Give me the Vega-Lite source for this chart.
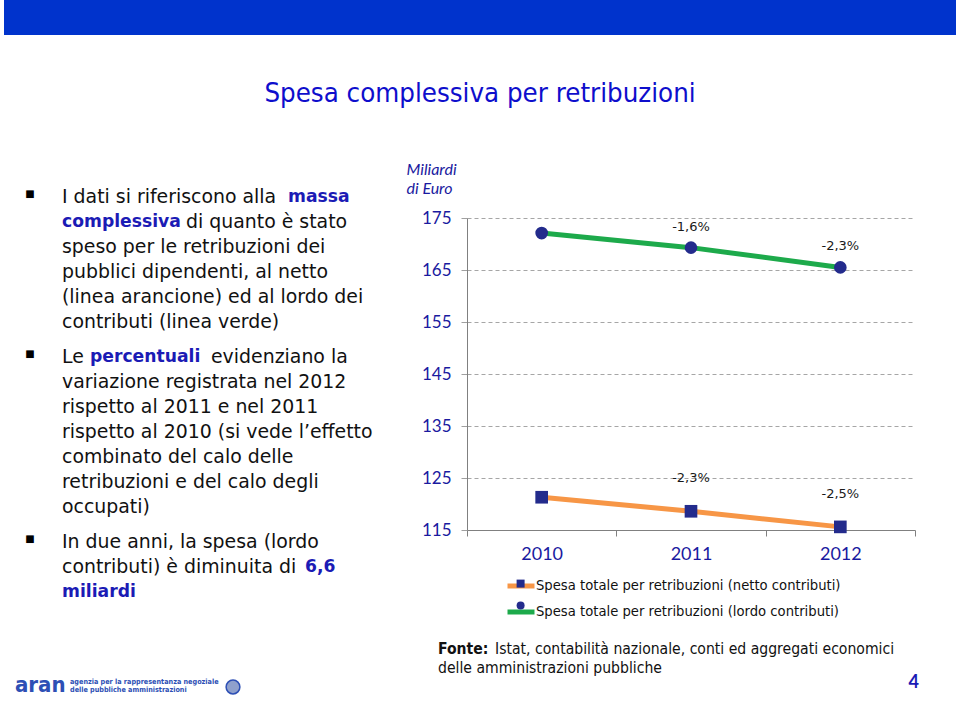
{
  "$schema": "https://vega.github.io/schema/vega-lite/v6.json",
  "background": "white",
  "padding": {"left": 4, "top": 0, "right": 0, "bottom": 0},
  "config": {"view": {"stroke": null}, "font": "Lato"},
  "spacing": 53,
  "vconcat": [
    {
      "width": 952,
      "height": 35,
      "data": {"values": [{"part": "banner"}]},
      "mark": {"type": "rect", "color": "#0033CC"},
      "title": {"text": "Spesa complessiva per retribuzioni", "orient": "bottom", "anchor": "middle", "offset": 45, "fontSize": 27.4, "font": "DejaVu Sans Condensed, Liberation Sans Narrow, Lato", "fontWeight": "normal", "color": "#0E0ECC"}
    },
    {
      "spacing": 7,
      "hconcat": [
        {
          "spacing": 0,
          "vconcat": [
            {
              "width": 395,
              "height": 447,
              "data": {"values": [
                {"line": 0, "para": 0, "seg": "p0", "text": "I dati si riferiscono alla"},
                {"line": 0, "para": 0, "seg": "b_massa", "text": "massa"},
                {"line": 1, "para": 0, "seg": "b0", "text": "complessiva"},
                {"line": 1, "para": 0, "seg": "p_di", "text": "di quanto è stato"},
                {"line": 2, "para": 0, "seg": "p0", "text": "speso per le retribuzioni dei"},
                {"line": 3, "para": 0, "seg": "p0", "text": "pubblici dipendenti, al netto"},
                {"line": 4, "para": 0, "seg": "p0", "text": "(linea arancione) ed al lordo dei"},
                {"line": 5, "para": 0, "seg": "p0", "text": "contributi (linea verde)"},
                {"line": 6, "para": 1, "seg": "p0", "text": "Le"},
                {"line": 6, "para": 1, "seg": "b_perc", "text": "percentuali"},
                {"line": 6, "para": 1, "seg": "p_evid", "text": "evidenziano la"},
                {"line": 7, "para": 1, "seg": "p0", "text": "variazione registrata nel 2012"},
                {"line": 8, "para": 1, "seg": "p0", "text": "rispetto al 2011 e nel 2011"},
                {"line": 9, "para": 1, "seg": "p0", "text": "rispetto al 2010 (si vede l’effetto"},
                {"line": 10, "para": 1, "seg": "p0", "text": "combinato del calo delle"},
                {"line": 11, "para": 1, "seg": "p0", "text": "retribuzioni e del calo degli"},
                {"line": 12, "para": 1, "seg": "p0", "text": "occupati)"},
                {"line": 13, "para": 2, "seg": "p0", "text": "In due anni, la spesa (lordo"},
                {"line": 14, "para": 2, "seg": "p0", "text": "contributi) è diminuita di"},
                {"line": 14, "para": 2, "seg": "b_66", "text": "6,6"},
                {"line": 15, "para": 2, "seg": "b0", "text": "miliardi"}
              ]},
              "encoding": {
                "y": {"field": "line", "type": "ordinal", "scale": {"range": [-20.7, 379.3], "padding": 0}, "axis": null},
                "yOffset": {"field": "para", "type": "quantitative", "scale": {"domain": [0, 2], "range": [0, 20]}},
                "text": {"field": "text"}
              },
              "layer": [
                {"transform": [{"filter": "datum.seg === 'p0'"}], "mark": {"type": "text", "align": "left", "baseline": "middle", "x": 58, "fontSize": 18.9, "font": "DejaVu Sans", "color": "#111111"}},
                {"transform": [{"filter": "datum.seg === 'p_di'"}], "mark": {"type": "text", "align": "left", "baseline": "middle", "x": 58, "dx": 124, "fontSize": 18.9, "font": "DejaVu Sans", "color": "#111111"}},
                {"transform": [{"filter": "datum.seg === 'p_evid'"}], "mark": {"type": "text", "align": "left", "baseline": "middle", "x": 58, "dx": 149, "fontSize": 18.9, "font": "DejaVu Sans", "color": "#111111"}},
                {"transform": [{"filter": "datum.seg === 'b0'"}], "mark": {"type": "text", "align": "left", "baseline": "middle", "x": 58, "fontSize": 17.2, "font": "DejaVu Sans", "fontWeight": "bold", "color": "#1B1BB5"}},
                {"transform": [{"filter": "datum.seg === 'b_massa'"}], "mark": {"type": "text", "align": "left", "baseline": "middle", "x": 58, "dx": 226, "fontSize": 17.2, "font": "DejaVu Sans", "fontWeight": "bold", "color": "#1B1BB5"}},
                {"transform": [{"filter": "datum.seg === 'b_perc'"}], "mark": {"type": "text", "align": "left", "baseline": "middle", "x": 58, "dx": 28, "fontSize": 17.2, "font": "DejaVu Sans", "fontWeight": "bold", "color": "#1B1BB5"}},
                {"transform": [{"filter": "datum.seg === 'b_66'"}], "mark": {"type": "text", "align": "left", "baseline": "middle", "x": 58, "dx": 243, "fontSize": 17.2, "font": "DejaVu Sans", "fontWeight": "bold", "color": "#1B1BB5"}},
                {
                  "data": {"values": [{"line": 0, "para": 0}, {"line": 6, "para": 1}, {"line": 13, "para": 2}]},
                  "mark": {"type": "text", "align": "center", "baseline": "middle", "x": 26, "dy": -3, "fontSize": 10, "font": "DejaVu Sans", "color": "#000000"},
                  "encoding": {"text": {"value": "■"}}
                }
              ]
            },
            {
              "width": 395,
              "height": 35,
              "layer": [
                {"data": {"values": [{"t": "aran"}]}, "mark": {"type": "text", "align": "left", "baseline": "middle", "x": 11, "y": 20, "fontSize": 22, "fontWeight": "bold", "font": "DejaVu Sans Condensed, Lato", "color": "#2D4FB5"}, "encoding": {"text": {"field": "t"}}},
                {"data": {"values": [{"t": "agenzia per la rappresentanza negoziale", "l": 0}, {"t": "delle pubbliche amministrazioni", "l": 1}]}, "mark": {"type": "text", "align": "left", "baseline": "middle", "x": 66, "fontSize": 7.2, "fontWeight": "bold", "font": "DejaVu Sans Condensed, Lato", "color": "#2D4FB5"}, "encoding": {"text": {"field": "t"}, "y": {"field": "l", "type": "ordinal", "scale": {"range": [17, 25], "padding": 0}, "axis": null}}},
                {"data": {"values": [{"t": "emblem"}]}, "mark": {"type": "point", "shape": "circle", "x": 229, "y": 22, "size": 190, "filled": true, "color": "#8FA0CC", "stroke": "#2D4FB5", "strokeWidth": 1.5, "opacity": 1}}
              ]
            }
          ]
        },
        {
          "spacing": 72,
          "vconcat": [
            {
              "width": 448,
              "height": 312,
              "data": {"values": [
                {"year": "2010", "serie": "Spesa totale per retribuzioni (netto contributi)", "marker": "netto", "val": 121.3, "var": ""},
                {"year": "2011", "serie": "Spesa totale per retribuzioni (netto contributi)", "marker": "netto", "val": 118.6, "var": "-2,3%"},
                {"year": "2012", "serie": "Spesa totale per retribuzioni (netto contributi)", "marker": "netto", "val": 115.6, "var": "-2,5%"},
                {"year": "2010", "serie": "Spesa totale per retribuzioni (lordo contributi)", "marker": "lordo", "val": 172.1, "var": ""},
                {"year": "2011", "serie": "Spesa totale per retribuzioni (lordo contributi)", "marker": "lordo", "val": 169.3, "var": "-1,6%"},
                {"year": "2012", "serie": "Spesa totale per retribuzioni (lordo contributi)", "marker": "lordo", "val": 165.5, "var": "-2,3%"}
              ]},
              "encoding": {
                "x": {"field": "year", "type": "ordinal", "scale": {"type": "band", "paddingInner": 0, "paddingOuter": 0},
                  "axis": {"title": null, "labelAngle": 0, "tickBand": "extent", "tickSize": 6, "tickColor": "#808080", "domainColor": "#808080", "labelColor": "#1A1AA0", "labelFontSize": 18, "labelFont": "Lato", "labelPadding": 9, "grid": false}},
                "y": {"field": "val", "type": "quantitative", "scale": {"domain": [115, 175], "nice": false, "zero": false},
                  "axis": {"title": ["Miliardi", "di Euro"], "titleAngle": 0, "titleAlign": "left", "titleBaseline": "alphabetic", "titleX": -61, "titleY": -44, "titleFont": "Lato", "titleFontStyle": "italic", "titleFontWeight": "normal", "titleFontSize": 16, "titleColor": "#1A1AA0", "titleLineHeight": 19,
                    "values": [115, 125, 135, 145, 155, 165, 175], "tickSize": 6, "tickColor": "#A0A0A0", "domainColor": "#808080", "labelColor": "#1A1AA0", "labelFontSize": 17, "labelFont": "Lato", "labelPadding": 10, "grid": true, "gridDash": [4, 3], "gridColor": "#A6A6A6"}}
              },
              "layer": [
                {
                  "mark": {"type": "line", "strokeWidth": 5},
                  "encoding": {"stroke": {"field": "serie", "type": "nominal",
                    "scale": {"domain": ["Spesa totale per retribuzioni (netto contributi)", "Spesa totale per retribuzioni (lordo contributi)"], "range": ["#F79646", "#1DAA4B"]},
                    "legend": {"orient": "none", "legendX": 501, "legendY": 570, "title": null, "direction": "vertical", "symbolType": "stroke", "symbolSize": 729, "symbolStrokeWidth": 5, "labelFont": "DejaVu Sans", "labelFontSize": 13.2, "labelColor": "#111111", "labelOffset": -1, "labelLimit": 0, "rowPadding": -7, "padding": 0}}}
                },
                {
                  "mark": {"type": "point", "filled": true, "opacity": 1, "color": "#232B8C", "size": 160},
                  "encoding": {"shape": {"field": "marker", "type": "nominal",
                    "scale": {"domain": ["netto", "lordo"], "range": ["square", "circle"]},
                    "legend": {"orient": "none", "legendX": 510, "legendY": 577, "title": null, "direction": "vertical", "symbolSize": 64, "symbolFillColor": "#232B8C", "symbolStrokeColor": "#232B8C", "labelExpr": "''", "labelFont": "DejaVu Sans", "labelFontSize": 13.2, "rowPadding": 6.8, "padding": 0}}}
                },
                {
                  "transform": [{"filter": "datum.marker === 'lordo'"}],
                  "mark": {"type": "text", "dy": -21, "fontSize": 13, "font": "DejaVu Sans", "color": "#1A1A1A"},
                  "encoding": {"text": {"field": "var"}}
                },
                {
                  "transform": [{"filter": "datum.marker === 'netto'"}],
                  "mark": {"type": "text", "dy": -33, "fontSize": 13, "font": "DejaVu Sans", "color": "#1A1A1A"},
                  "encoding": {"text": {"field": "var"}}
                }
              ]
            },
            {
              "width": 452,
              "height": 36,
              "data": {"values": [
                {"line": 0, "seg": "bold", "text": "Fonte:"},
                {"line": 0, "seg": "rest", "text": "Istat, contabilità nazionale, conti ed aggregati economici"},
                {"line": 1, "seg": "start", "text": "delle amministrazioni pubbliche"}
              ]},
              "encoding": {
                "y": {"field": "line", "type": "ordinal", "scale": {"range": [14, 33], "padding": 0}, "axis": null},
                "text": {"field": "text"}
              },
              "layer": [
                {"transform": [{"filter": "datum.seg === 'bold'"}], "mark": {"type": "text", "align": "left", "baseline": "middle", "x": -29, "fontSize": 15.6, "font": "DejaVu Sans Condensed, Lato", "fontWeight": "bold", "color": "#111111"}},
                {"transform": [{"filter": "datum.seg === 'rest'"}], "mark": {"type": "text", "align": "left", "baseline": "middle", "x": -29, "dx": 57, "fontSize": 15.6, "font": "DejaVu Sans Condensed, Lato", "color": "#111111"}},
                {"transform": [{"filter": "datum.seg === 'start'"}], "mark": {"type": "text", "align": "left", "baseline": "middle", "x": -29, "fontSize": 15.6, "font": "DejaVu Sans Condensed, Lato", "color": "#111111"}}
              ],
              "title": {"text": "4", "orient": "bottom", "anchor": "end", "offset": -3, "fontSize": 18, "fontWeight": "bold", "color": "#1A1AB5", "font": "Lato"}
            }
          ]
        }
      ]
    }
  ]
}
